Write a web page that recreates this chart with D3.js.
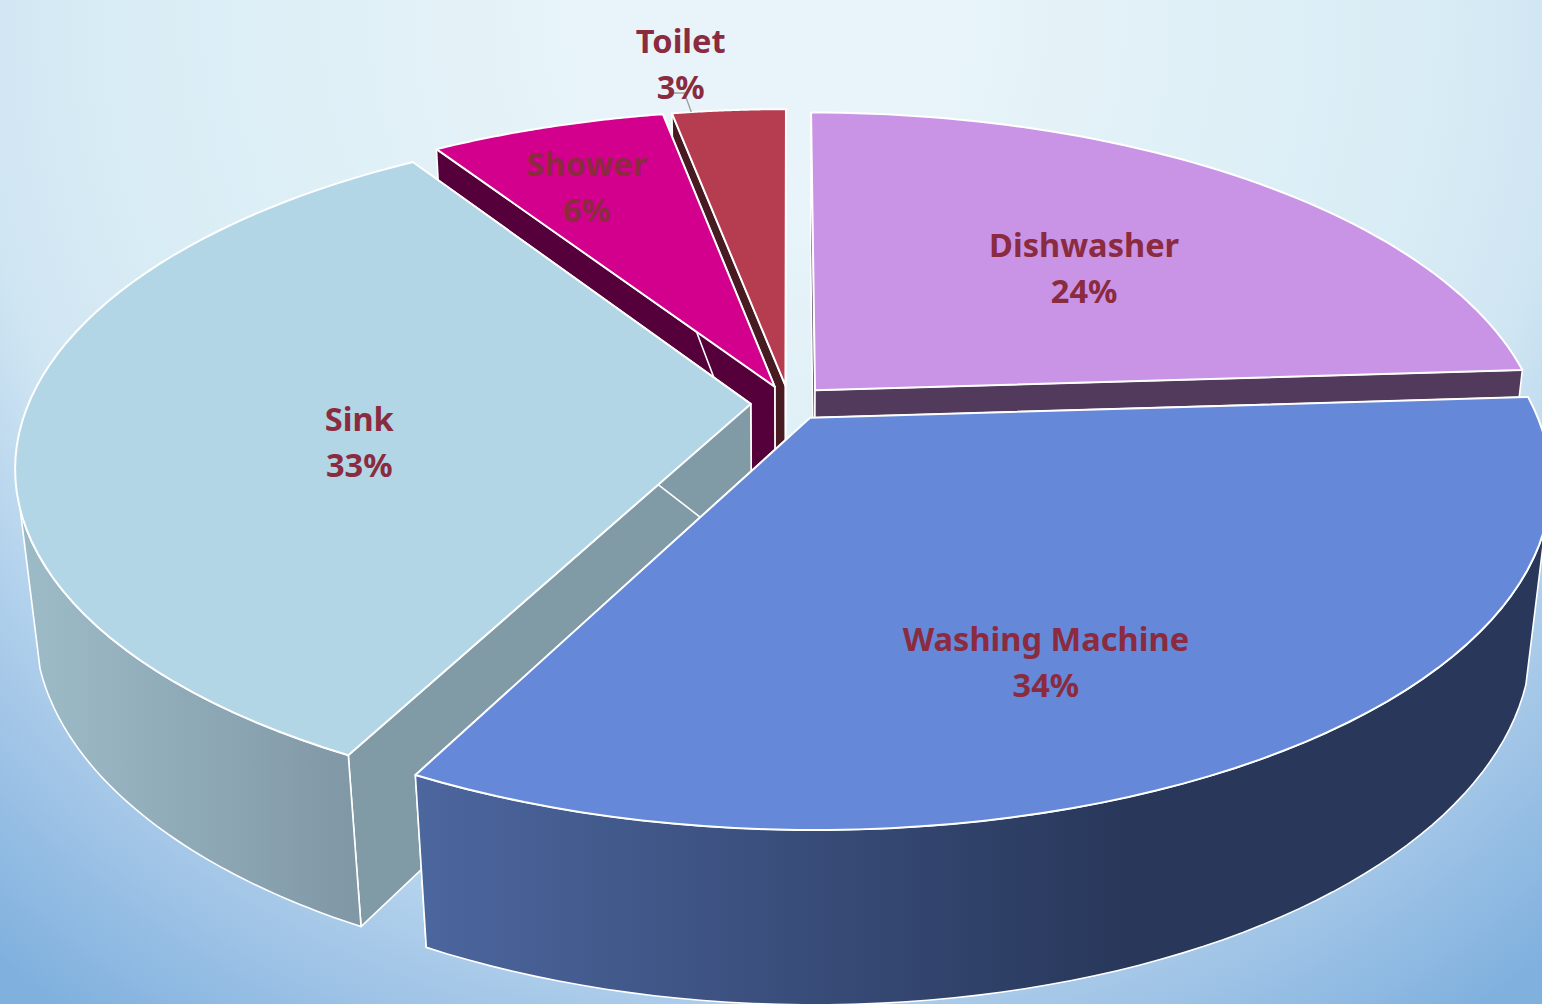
<!DOCTYPE html>
<html lang="en">
<head>
  <meta charset="UTF-8">
  <title>Water use by appliance</title>
  <style>
    html, body { margin: 0; padding: 0; background: #fff; }
    svg { display: block; }
    text { font-family: "Noto Sans", sans-serif; font-weight: 700; }
  </style>
</head>
<body>
  <div id="chart"></div>
  <script src="https://d3js.org/d3.v7.min.js"></script>
  <script>
    const categories = ['Dishwasher', 'Washing Machine', 'Sink', 'Shower', 'Toilet'];
    const shares = [24, 33.6, 33.2, 6.2, 3];

    // look of each slice: top face, side wall, outer wall gradient
    const topColors = ['#c994e6', '#6589d8', '#b2d6e6', '#d3008e', '#b63c50'];
    const sideColors = ['#523a5c', '#28375a', '#809aa6', '#55003a', '#481b22'];
    const rimFrom = ['#6a4c78', '#4c669e', '#9cbac6', '#6a0047', '#5c2029'];
    const rimTo = ['#523a5c', '#28375a', '#8097a5', '#55003a', '#481b22'];
    // label placement, as angle shift (deg) and radius on the pie plane
    const labelShift = [1.8, 8.8, -8.5, -1.2, -2.9];
    const labelRadius = [0.63, 0.764, 0.6, 0.814, 1.287];

    const width = 1542;
    const height = 1004;
    const explode = 0.053;
    const persp = 0.18;     // depth change towards the viewer
    const drop = 0.025;     // depth change going down the wall
    const wallFrom = 107.5 * Math.PI / 180;  // outer wall only shows on the near side
    const wallTo = 252.5 * Math.PI / 180;

    const xScale = d3.scaleLinear().domain([-1, 1]).range([789 - 722, 789 + 722]);
    const yScale = d3.scaleLinear().domain([-1, 1]).range([403 - 332, 403 + 332]);
    const zScale = d3.scaleLinear().domain([0, 1]).range([0, 157]);

    const pie = d3.pie().sort(null).value(d => d);
    const slices = pie(shares).map((d, i) => ({
      ...d,
      i,
      mid: (d.startAngle + d.endAngle) / 2,
      name: categories[i]
    }));

    function project(s, angle, r, z) {
      const X = r * Math.sin(angle) + explode * Math.sin(s.mid);
      const Y = -r * Math.cos(angle) - explode * Math.cos(s.mid);
      const w = 1 - persp * Y + drop * z;
      return [xScale(X / w), yScale(Y / w) + zScale(z) / w];
    }

    function rim(s, from, to, z) {
      return d3.range(0, 61).map(k => project(s, from + (to - from) * k / 60, 1, z));
    }

    const line = d3.line();
    const closed = pts => line(pts) + 'Z';

    const svg = d3.select('#chart').append('svg')
      .attr('width', width)
      .attr('height', height);

    const defs = svg.append('defs');

    const bg = defs.append('radialGradient')
      .attr('id', 'bg')
      .attr('gradientUnits', 'userSpaceOnUse')
      .attr('cx', 770).attr('cy', 20).attr('r', 1220);
    [[0, '#e9f4fa'], [0.14, '#e8f4f9'], [0.55, '#d8ecf5'], [0.66, '#cfe5f2'],
     [0.78, '#b0d0ec'], [0.83, '#a6c8e8'], [1, '#7fb0de']].forEach(st => {
      bg.append('stop').attr('offset', st[0]).attr('stop-color', st[1]);
    });

    svg.append('rect')
      .attr('width', width)
      .attr('height', height)
      .attr('fill', 'url(#bg)');

    slices.forEach(s => {
      const g = defs.append('linearGradient')
        .attr('id', 'rim' + s.i)
        .attr('gradientUnits', 'userSpaceOnUse')
        .attr('x1', s.i === 2 ? 40 : 420).attr('y1', 0)
        .attr('x2', s.i === 2 ? 360 : 1130).attr('y2', 0);
      g.append('stop').attr('offset', 0).attr('stop-color', rimFrom[s.i]);
      g.append('stop').attr('offset', 1).attr('stop-color', rimTo[s.i]);
    });

    // back slices first, the washing machine slice sits in front of everything
    const drawOrder = [4, 3, 0, 2, 1];

    drawOrder.forEach(i => {
      const s = slices[i];
      const group = svg.append('g').attr('class', 'slice');
      const faces = [
        { angle: s.startAngle },
        { angle: s.endAngle }
      ];

      group.selectAll('path.side')
        .data(faces)
        .join('path')
        .attr('class', 'side')
        .attr('d', f => closed([
          project(s, 0, 0, 0),
          project(s, f.angle, 1, 0),
          project(s, f.angle, 1, 1),
          project(s, 0, 0, 1)
        ]))
        .attr('fill', sideColors[i])
        .attr('stroke', '#fff')
        .attr('stroke-width', 1.6)
        .attr('stroke-linejoin', 'round');

      const from = Math.max(s.startAngle, wallFrom);
      const to = Math.min(s.endAngle, wallTo);
      if (from < to) {
        group.append('path')
          .attr('class', 'wall')
          .attr('d', closed(rim(s, from, to, 0).concat(rim(s, from, to, 1).reverse())))
          .attr('fill', 'url(#rim' + i + ')')
          .attr('stroke', '#fff')
          .attr('stroke-width', 1.6)
          .attr('stroke-linejoin', 'round');
      }

      group.append('path')
        .attr('class', 'top')
        .attr('d', closed([project(s, 0, 0, 0)].concat(rim(s, s.startAngle, s.endAngle, 0))))
        .attr('fill', topColors[i])
        .attr('stroke', '#fff')
        .attr('stroke-width', 2)
        .attr('stroke-linejoin', 'round');
    });

    // toilet label sits outside its slice, so it gets a leader line
    const toilet = slices[4];
    const edge = project(toilet, toilet.mid - 0.062, 1, 0);
    svg.append('path')
      .attr('d', line([[edge[0] - 19, edge[1] - 19], [edge[0] - 7, edge[1] - 19], edge]))
      .attr('fill', 'none')
      .attr('stroke', '#a0a0a0')
      .attr('stroke-width', 1.4);

    slices.forEach(s => {
      const a = s.mid + labelShift[s.i] * Math.PI / 180;
      const [lx, ly] = project({ mid: 0 }, a, labelRadius[s.i], 0);
      const label = svg.append('text')
        .attr('text-anchor', 'middle')
        .attr('fill', '#8b2b3f')
        .attr('font-size', 32.6);
      label.append('tspan').attr('x', lx).attr('y', ly + 6).text(s.name);
      label.append('tspan').attr('x', lx).attr('y', ly + 52).text(Math.round(s.value) + '%');
    });
  </script>
</body>
</html>
